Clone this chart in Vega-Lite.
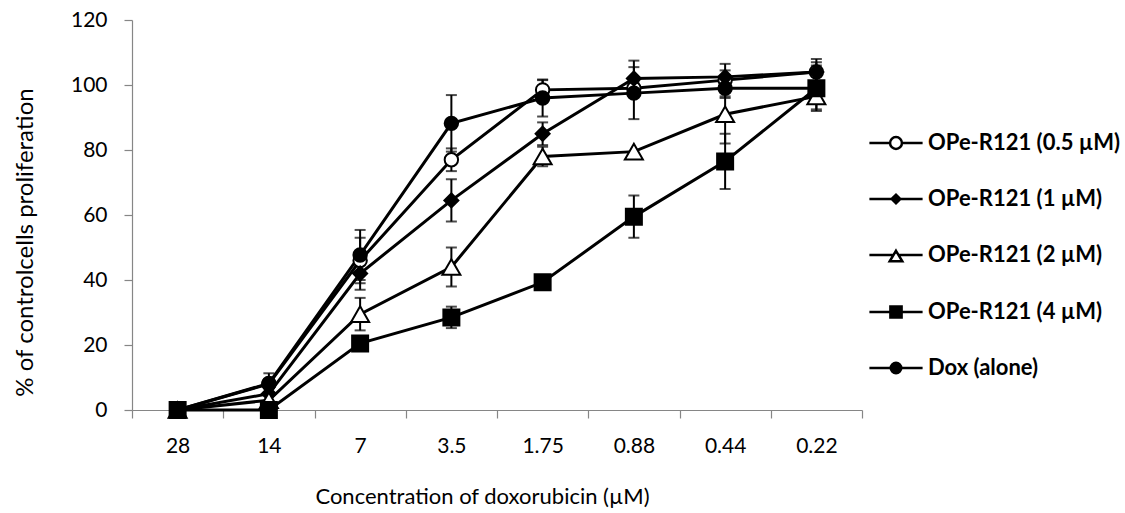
{
  "$schema": "https://vega.github.io/schema/vega-lite/v6.json",
  "width": 730,
  "height": 390,
  "autosize": {"type": "none"},
  "padding": {"left": 132, "top": 20, "right": 263, "bottom": 103},
  "background": "white",
  "config": {
    "view": {"stroke": null},
    "font": "Lato",
    "axis": {
      "grid": false,
      "domainColor": "#868686",
      "tickColor": "#868686",
      "domainWidth": 1.2,
      "tickWidth": 1.2,
      "tickSize": 8,
      "labelColor": "black",
      "labelFont": "Lato",
      "labelFontSize": 21,
      "titleColor": "black",
      "titleFont": "Lato",
      "titleFontSize": 22,
      "titleFontWeight": "normal"
    }
  },
  "data": {
    "values": [
      {"c": "28", "s": "OPe-R121 (0.5 µM)", "v": 0, "lo": null, "hi": null},
      {"c": "14", "s": "OPe-R121 (0.5 µM)", "v": 8, "lo": null, "hi": null},
      {"c": "7", "s": "OPe-R121 (0.5 µM)", "v": 46, "lo": 39, "hi": 53},
      {"c": "3.5", "s": "OPe-R121 (0.5 µM)", "v": 77, "lo": 73.5, "hi": 80.5},
      {"c": "1.75", "s": "OPe-R121 (0.5 µM)", "v": 98.5, "lo": 95.5, "hi": 101.5},
      {"c": "0.88", "s": "OPe-R121 (0.5 µM)", "v": 99, "lo": 97, "hi": 101},
      {"c": "0.44", "s": "OPe-R121 (0.5 µM)", "v": 101.5, "lo": 96.5, "hi": 106.5},
      {"c": "0.22", "s": "OPe-R121 (0.5 µM)", "v": 104, "lo": 100, "hi": 108},
      {"c": "28", "s": "OPe-R121 (1 µM)", "v": 0, "lo": null, "hi": null},
      {"c": "14", "s": "OPe-R121 (1 µM)", "v": 5, "lo": null, "hi": null},
      {"c": "7", "s": "OPe-R121 (1 µM)", "v": 42, "lo": 37, "hi": 47},
      {"c": "3.5", "s": "OPe-R121 (1 µM)", "v": 64.5, "lo": 58, "hi": 71},
      {"c": "1.75", "s": "OPe-R121 (1 µM)", "v": 85, "lo": 81.5, "hi": 88.5},
      {"c": "0.88", "s": "OPe-R121 (1 µM)", "v": 102, "lo": 96.5, "hi": 107.5},
      {"c": "0.44", "s": "OPe-R121 (1 µM)", "v": 102.5, "lo": 100.5, "hi": 104.5},
      {"c": "0.22", "s": "OPe-R121 (1 µM)", "v": 104, "lo": 101, "hi": 107},
      {"c": "28", "s": "OPe-R121 (2 µM)", "v": 0, "lo": null, "hi": null},
      {"c": "14", "s": "OPe-R121 (2 µM)", "v": 3, "lo": null, "hi": null},
      {"c": "7", "s": "OPe-R121 (2 µM)", "v": 29.5, "lo": 24.5, "hi": 34.5},
      {"c": "3.5", "s": "OPe-R121 (2 µM)", "v": 44, "lo": 38, "hi": 50},
      {"c": "1.75", "s": "OPe-R121 (2 µM)", "v": 78, "lo": 75, "hi": 81},
      {"c": "0.88", "s": "OPe-R121 (2 µM)", "v": 79.5, "lo": null, "hi": null},
      {"c": "0.44", "s": "OPe-R121 (2 µM)", "v": 91, "lo": 82, "hi": 100},
      {"c": "0.22", "s": "OPe-R121 (2 µM)", "v": 96.5, "lo": 92.5, "hi": 100.5},
      {"c": "28", "s": "OPe-R121 (4 µM)", "v": 0, "lo": null, "hi": null},
      {"c": "14", "s": "OPe-R121 (4 µM)", "v": 0, "lo": null, "hi": null},
      {"c": "7", "s": "OPe-R121 (4 µM)", "v": 20.5, "lo": null, "hi": null},
      {"c": "3.5", "s": "OPe-R121 (4 µM)", "v": 28.5, "lo": 25.2, "hi": 31.8},
      {"c": "1.75", "s": "OPe-R121 (4 µM)", "v": 39.3, "lo": null, "hi": null},
      {"c": "0.88", "s": "OPe-R121 (4 µM)", "v": 59.5, "lo": 53, "hi": 66},
      {"c": "0.44", "s": "OPe-R121 (4 µM)", "v": 76.5, "lo": 68, "hi": 85},
      {"c": "0.22", "s": "OPe-R121 (4 µM)", "v": 99, "lo": 92, "hi": 106},
      {"c": "28", "s": "Dox (alone)", "v": 0, "lo": null, "hi": null},
      {"c": "14", "s": "Dox (alone)", "v": 8.2, "lo": 5, "hi": 11.3},
      {"c": "7", "s": "Dox (alone)", "v": 47.7, "lo": 40, "hi": 55.4},
      {"c": "3.5", "s": "Dox (alone)", "v": 88.2, "lo": 79.5, "hi": 96.9},
      {"c": "1.75", "s": "Dox (alone)", "v": 96, "lo": 90.3, "hi": 101.7},
      {"c": "0.88", "s": "Dox (alone)", "v": 97.5, "lo": 89.5, "hi": 105.5},
      {"c": "0.44", "s": "Dox (alone)", "v": 99, "lo": 96, "hi": 102},
      {"c": "0.22", "s": "Dox (alone)", "v": 99, "lo": 97, "hi": 101}
    ]
  },
  "encoding": {
    "x": {
      "field": "c",
      "type": "ordinal",
      "sort": ["28", "14", "7", "3.5", "1.75", "0.88", "0.44", "0.22"],
      "scale": {"type": "band", "paddingInner": 0, "paddingOuter": 0},
      "axis": {
        "title": "Concentration of doxorubicin (µM)",
        "labelAngle": 0,
        "tickBand": "extent",
        "labelPadding": 17,
        "titlePadding": 30,
        "titleX": 350
      }
    },
    "y": {
      "field": "v",
      "type": "quantitative",
      "scale": {"domain": [0, 120]},
      "axis": {
        "title": "% of controlcells  proliferation",
        "values": [0, 20, 40, 60, 80, 100, 120],
        "labelPadding": 17,
        "titlePadding": 33,
        "titleFontSize": 24,
        "titleY": 222
      }
    }
  },
  "layer": [
    {
      "mark": {"type": "line", "color": "black", "strokeWidth": 3},
      "encoding": {"detail": {"field": "s"}}
    },
    {
      "transform": [{"filter": "isValid(datum.lo)"}],
      "mark": {
        "type": "errorbar",
        "color": "black",
        "ticks": {"size": 11, "thickness": 2, "color": "black"},
        "rule": {"strokeWidth": 2, "color": "black"}
      },
      "encoding": {
        "y": {"field": "lo", "type": "quantitative", "title": "% of controlcells  proliferation"},
        "y2": {"field": "hi"},
        "detail": {"field": "s"}
      }
    },
    {
      "transform": [{"filter": "datum.s === 'OPe-R121 (0.5 µM)'"}],
      "mark": {"type": "point", "shape": "circle", "filled": true, "fill": "white", "stroke": "black", "strokeWidth": 2, "size": 180, "opacity": 1}
    },
    {
      "transform": [{"filter": "datum.s === 'OPe-R121 (1 µM)'"}],
      "mark": {"type": "point", "shape": "diamond", "filled": true, "fill": "black", "stroke": "black", "strokeWidth": 2, "size": 196, "opacity": 1}
    },
    {
      "transform": [{"filter": "datum.s === 'OPe-R121 (2 µM)'"}],
      "mark": {"type": "point", "shape": "triangle-up", "filled": true, "fill": "white", "stroke": "black", "strokeWidth": 2, "size": 324, "opacity": 1}
    },
    {
      "transform": [{"filter": "datum.s === 'OPe-R121 (4 µM)'"}],
      "mark": {"type": "point", "shape": "square", "filled": true, "fill": "black", "stroke": "black", "strokeWidth": 2, "size": 256, "opacity": 1}
    },
    {
      "transform": [{"filter": "datum.s === 'Dox (alone)'"}],
      "mark": {"type": "point", "shape": "circle", "filled": true, "fill": "black", "stroke": "black", "strokeWidth": 2, "size": 180, "opacity": 1}
    },
    {
      "mark": {"type": "point", "filled": false, "color": "black", "strokeWidth": 2.5, "opacity": 0, "size": 196},
      "encoding": {
        "shape": {
          "field": "s", "type": "nominal", "title": null,
          "scale": {
            "domain": ["OPe-R121 (0.5 µM)", "OPe-R121 (1 µM)", "OPe-R121 (2 µM)", "OPe-R121 (4 µM)", "Dox (alone)"],
            "range": [
              "M-3.8,0H-0.85M0.85,0H3.8M-0.85,0A0.85,0.85 0 1,1 0.85,0A0.85,0.85 0 1,1 -0.85,0Z",
              "M-3.8,0H3.8M-0.62,0L0,-0.62L0.62,0L0,0.62ZM-0.38,0L0,-0.38L0.38,0L0,0.38ZM-0.14,0L0,-0.14L0.14,0L0,0.14Z",
              "M-3.8,0H-0.36M0.36,0H3.8M0,-0.6L0.9,0.9L-0.9,0.9Z",
              "M-3.8,0H3.8M-0.8,-0.8H0.8V0.8H-0.8ZM-0.55,-0.55H0.55V0.55H-0.55ZM-0.3,-0.3H0.3V0.3H-0.3ZM-0.08,-0.08H0.08V0.08H-0.08Z",
              "M-3.8,0H3.8M-0.75,0A0.75,0.75 0 1,1 0.75,0A0.75,0.75 0 1,1 -0.75,0ZM-0.5,0A0.5,0.5 0 1,1 0.5,0A0.5,0.5 0 1,1 -0.5,0ZM-0.25,0A0.25,0.25 0 1,1 0.25,0A0.25,0.25 0 1,1 -0.25,0ZM-0.06,0A0.06,0.06 0 1,1 0.06,0A0.06,0.06 0 1,1 -0.06,0Z"
            ]
          },
          "legend": {
            "orient": "none",
            "legendX": 753,
            "legendY": 112,
            "labelFont": "Lato",
            "labelFontSize": 22,
            "labelFontWeight": "bold",
            "labelColor": "black",
            "labelLimit": 400,
            "symbolSize": 196,
            "symbolStrokeWidth": 2.5,
            "symbolOpacity": 1,
            "symbolFillColor": "transparent",
            "symbolStrokeColor": "black",
            "rowPadding": 34,
            "labelOffset": 21
          }
        }
      }
    }
  ]
}
